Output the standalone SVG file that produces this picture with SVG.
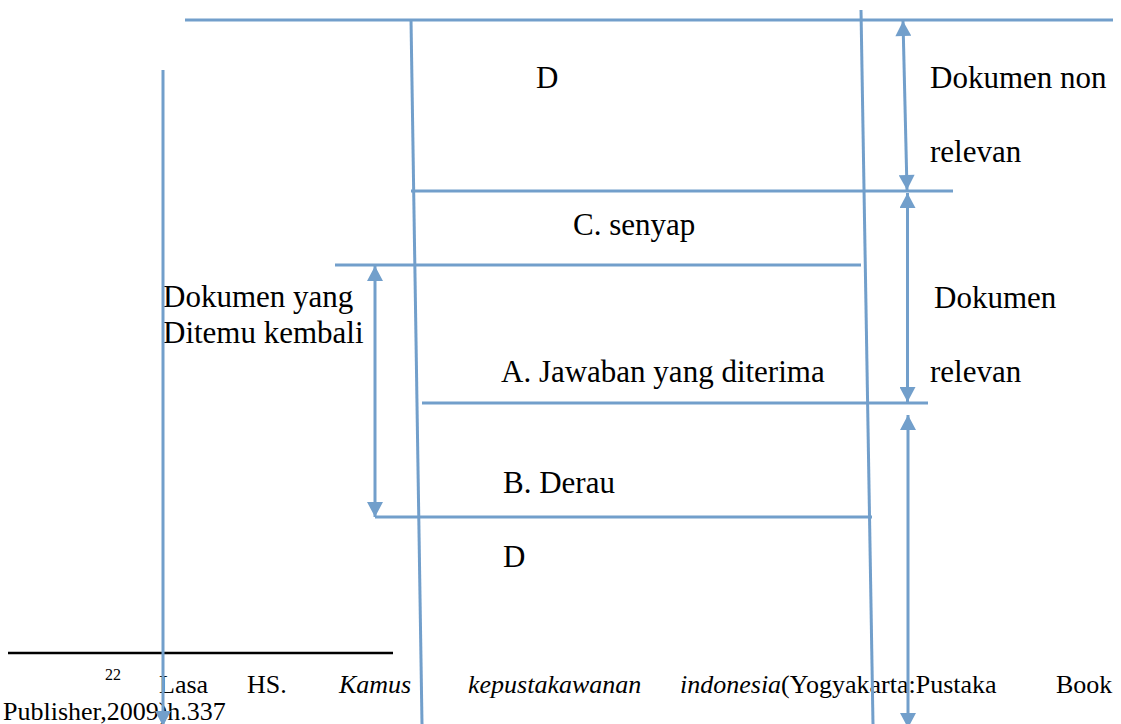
<svg xmlns="http://www.w3.org/2000/svg" width="1121" height="724" viewBox="0 0 1121 724">
  <style>
    .lbl { font-size: 31px; fill: #000; }
    .fn { font-size: 26px; fill: #000; }
    .it { font-style: italic; }
    .ln { stroke: #729FCB; stroke-width: 3; fill: none; }
    .ar { stroke: #729FCB; stroke-width: 3; fill: none; marker-end: url(#ah); }
    .ar2 { stroke: #729FCB; stroke-width: 3; fill: none; marker-start: url(#ahs); marker-end: url(#ah); }
  </style>
  <defs>
    <marker id="ah" markerUnits="userSpaceOnUse" markerWidth="16" markerHeight="16" viewBox="0 0 15 16" refX="15" refY="8" orient="auto">
      <path d="M0,0 L15,8 L0,16 Z" fill="#729FCB"/>
    </marker>
    <marker id="ahs" markerUnits="userSpaceOnUse" markerWidth="16" markerHeight="16" viewBox="0 0 15 16" refX="0" refY="8" orient="auto">
      <path d="M15,0 L0,8 L15,16 Z" fill="#729FCB"/>
    </marker>
  </defs>
  <rect width="1121" height="724" fill="#fff"/>

  <g font-family="Liberation Serif, DejaVu Serif, Noto Serif, serif">
  <g id="label-d-top"><text class="lbl" x="536" y="88">D</text></g>
  <g id="label-nonrelevan">
    <text class="lbl" x="930" y="88">Dokumen non</text>
    <text class="lbl" x="930" y="162">relevan</text>
  </g>
  <g id="label-c"><text class="lbl" x="573" y="235">C. senyap</text></g>
  <g id="label-ditemu">
    <text class="lbl" x="163" y="307">Dokumen yang</text>
    <text class="lbl" x="163" y="343">Ditemu kembali</text>
  </g>
  <g id="label-relevan">
    <text class="lbl" x="934" y="308">Dokumen</text>
    <text class="lbl" x="930" y="382">relevan</text>
  </g>
  <g id="label-a"><text class="lbl" x="501" y="382">A. Jawaban yang diterima</text></g>
  <g id="label-b"><text class="lbl" x="503" y="493">B. Derau</text></g>
  <g id="label-d-bottom"><text class="lbl" x="503" y="567">D</text></g>

  <g id="footnote">
    <line x1="8" y1="653" x2="393" y2="653" stroke="#000" stroke-width="2.5"/>
    <text class="fn" x="105" y="680" style="font-size:16px">22</text>
    <text class="fn" x="159" y="693">Lasa</text>
    <text class="fn" x="247" y="693">HS.</text>
    <text class="fn it" x="339" y="693">Kamus</text>
    <text class="fn it" x="468" y="693">kepustakawanan</text>
    <text class="fn" x="680" y="693"><tspan class="it">indonesia</tspan>(Yogyakarta:Pustaka</text>
    <text class="fn" x="1056" y="693">Book</text>
    <text class="fn" x="3" y="720">Publisher,2009)h.337</text>
  </g>
  </g>

  <g id="connectors">
    <line class="ln" x1="185" y1="20" x2="1113" y2="20"/>
    <line class="ln" x1="411" y1="191" x2="953" y2="191"/>
    <line class="ln" x1="335" y1="265" x2="861" y2="265"/>
    <line class="ln" x1="422" y1="403" x2="928" y2="403"/>
    <line class="ln" x1="375" y1="517" x2="872" y2="517"/>
    <line class="ln" x1="411" y1="19" x2="422" y2="724"/>
    <line class="ln" x1="861" y1="10" x2="873" y2="724"/>
    <line class="ar" x1="163" y1="70" x2="163" y2="726"/>
    <line class="ar2" x1="903" y1="21" x2="907" y2="190"/>
    <line class="ar2" x1="907.5" y1="193" x2="907.5" y2="402"/>
    <line class="ar2" x1="375" y1="266" x2="375" y2="517"/>
    <line class="ar2" x1="908" y1="415" x2="908" y2="728"/>
  </g>
</svg>
